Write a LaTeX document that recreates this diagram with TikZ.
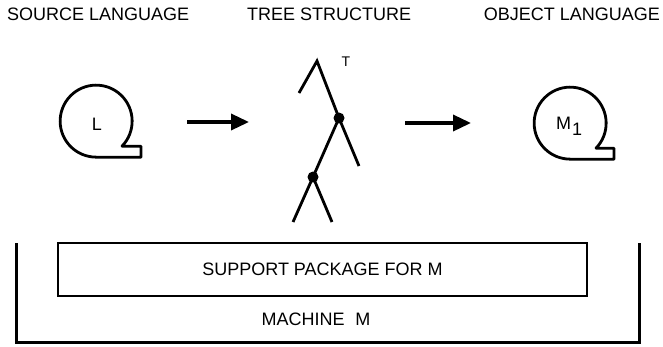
\documentclass[tikz,border=0pt]{standalone}
\usepackage{fontspec}
\setmainfont{Liberation Sans}
\usetikzlibrary{arrows.meta}
\begin{document}
\begin{tikzpicture}[x=1pt,y=-1pt,
  every node/.style={font=\fontsize{18}{21}\selectfont},
  heading/.style={anchor=base west, inner sep=0},
  langcirc/.style={circle, minimum size=72pt, inner sep=0},
  outline/.style={line width=2.8pt, line join=round},
  treeline/.style={line width=2.8pt},
  treedot/.style={circle, fill, inner sep=0, minimum size=11pt},
  flow/.style={line width=3.5pt, -{Triangle[length=18pt,width=16pt]}},
  frame/.style={line width=3pt},
]
\useasboundingbox[fill=white] (0,0) rectangle (663,346);

% column headings
\node[heading] (srchead) at (7,20) {SOURCE LANGUAGE};
\node[heading] (treehead) at (247,20) {TREE STRUCTURE};
\node[heading, anchor=base east] (objhead) at (660,20) {OBJECT LANGUAGE};

% source language: circle with a tab at the lower right
\node[langcirc] (src) at (96,121) {};
\node (srclabel) at (97,124) {L};
\draw[outline] (src.south) -- ++(45,0) -- ++(0,-11) -- (src.-44)
  arc[start angle=-44, end angle=270, radius=36pt] -- cycle;

% object language
\node[langcirc] (obj) at (570,123) {};
\node[anchor=base] (objlabel) at (569,129) {M\kern1pt\raisebox{-6pt}{1}};
\draw[outline] (obj.south) -- ++(44,0) -- ++(0,-11) -- (obj.-44)
  arc[start angle=-44, end angle=270, radius=36pt] -- cycle;

% tree
\coordinate (apex) at (317,61);
\coordinate (leafA) at (299,93);
\node[treedot] (n1) at (339,118) {};
\coordinate (leafB) at (359,166);
\node[treedot] (n2) at (313,177) {};
\coordinate (leafC) at (293,222);
\coordinate (leafD) at (332,222);
\draw[treeline] (leafA) -- (apex) -- (n1.center) -- (leafB);
\draw[treeline] (n1.center) -- (n2.center);
\draw[treeline] (leafC) -- (n2.center) -- (leafD);
\node[font=\fontsize{14}{16}\selectfont] (tlabel) at (346,62) {T};

% translation arrows
\coordinate (a1s) at (187,122);
\coordinate (a1e) at (249,122);
\coordinate (a2s) at (405,123);
\coordinate (a2e) at (471,123);
\draw[flow] (a1s) -- (a1e);
\draw[flow] (a2s) -- (a2e);

% support package and machine
\node[draw, line width=2.8pt, minimum width=529pt, minimum height=53pt, inner sep=0]
  (pkg) at (322.5,269.5) {SUPPORT PACKAGE FOR M};
\coordinate (mtl) at (16,243);
\coordinate (mbl) at (16,342);
\coordinate (mbr) at (639,342);
\coordinate (mtr) at (639,243);
\draw[frame] (mtl) -- (mbl) -- (mbr) -- (mtr);
\node (machine) at (316,319) {MACHINE\hspace{0.6em}M};
\end{tikzpicture}
\end{document}
